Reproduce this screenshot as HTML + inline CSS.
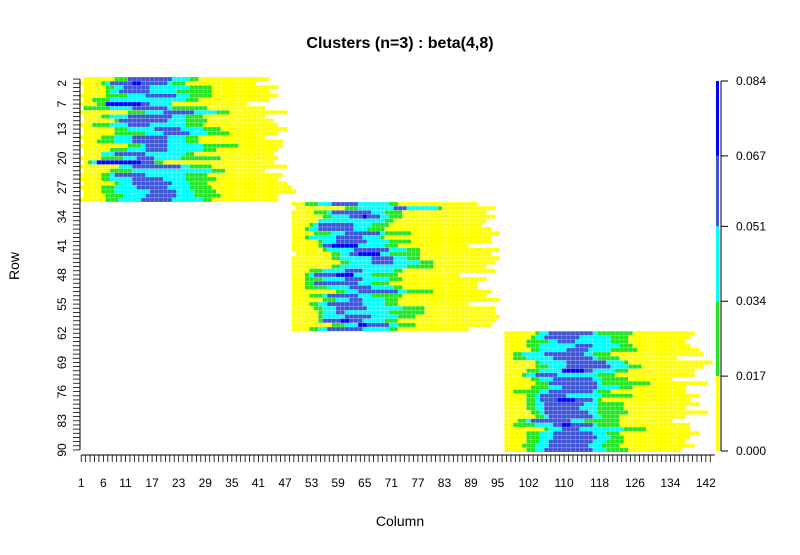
<!DOCTYPE html>
<html><head><meta charset="utf-8"><style>
body{margin:0;background:#fff;font-family:"Liberation Sans",Arial,sans-serif}
svg text{font-family:"Liberation Sans",Arial,sans-serif}
</style></head><body>
<svg id="chart" width="800" height="550" xmlns="http://www.w3.org/2000/svg">
<text x="400" y="48" text-anchor="middle" font-size="16" font-weight="bold">Clusters (n=3) : beta(4,8)</text>
<text x="400" y="526" text-anchor="middle" font-size="14">Column</text>
<text x="19" y="266" text-anchor="middle" font-size="14" transform="rotate(-90 19 266)">Row</text>
<g id="cells"></g><g id="axes"></g><g id="legend"></g>
</svg>
<script>
const rowTickLabels=[2,7,13,20,27,34,41,48,55,62,69,76,83,90];
const colTickLabels=[1,6,11,17,23,29,35,41,47,53,59,65,71,77,83,89,95,102,110,118,126,134,142];
const legendTicks=["0.000","0.017","0.034","0.051","0.067","0.084"];
const legendValues=[0,0.017,0.034,0.051,0.067,0.084];
const nRows=90, nCols=144;
const rowStart=[2,1,2,2,1,2,1,2,1,2,2,1,2,2,1,2,1,2,2,1,2,1,2,1,1,2,1,2,2,1,
49,50,49,49,49,49,49,49,49,49,49,49,50,49,49,49,49,49,49,49,49,49,49,49,49,49,49,49,49,49,49,
97,97,97,97,97,97,97,97,97,97,97,97,97,97,97,97,97,97,97,97,97,97,97,97,97,97,97,97,97];
const greenStart=[9,6,7,7,7,4,5,2,12,6,9,4,9,9,6,5,12,8,6,6,3,10,8,6,6,9,6,6,7,7,
52,61,54,56,55,53,52,54,52,55,55,56,58,58,60,58,53,52,52,52,52,59,53,56,53,54,55,55,55,58,53,
104,103,102,102,103,99,99,104,104,102,101,103,104,103,99,102,102,102,102,103,104,100,99,106,102,102,102,101,102];
const cyanStart=[12,7,9,8,12,8,7,8,16,8,10,8,12,16,9,9,15,12,6,11,4,10,13,8,8,10,9,9,11,10,
55,64,57,58,55,54,53,58,53,56,56,57,60,60,62,60,56,53,56,54,57,61,56,59,55,56,56,56,56,61,55,
105,104,107,105,105,101,102,105,107,105,102,105,107,107,105,104,104,104,104,105,106,102,104,107,105,105,105,104,104];
const blueStart=[12,8,11,10,16,14,7,13,20,12,10,12,18,20,13,13,16,16,9,14,5,13,30,9,13,13,14,17,16,15,
58,72,58,62,63,55,55,61,59,59,56,63,62,67,67,70,61,54,61,54,62,64,57,62,57,59,59,61,56,64,57,
107,106,109,113,111,106,108,111,111,110,104,108,107,110,107,105,105,106,106,106,107,103,108,110,108,108,107,107,106];
const blueEnd=[21,20,16,16,22,13,16,20,26,21,20,16,23,25,20,20,20,20,15,17,17,23,29,15,19,21,20,22,22,21,
63,74,66,68,62,62,62,68,64,65,63,70,67,71,71,69,64,62,64,63,66,72,63,64,64,65,60,66,64,70,64,
116,113,112,116,115,114,116,119,120,116,108,116,117,117,116,110,116,114,113,115,116,111,116,113,116,117,116,115,116];
const cyanEnd=[25,21,25,22,25,24,21,21,31,24,24,24,28,29,24,24,28,28,24,23,17,25,30,24,24,25,25,26,26,28,
70,81,69,70,69,66,65,69,68,70,69,74,70,74,77,74,71,66,70,66,71,74,66,69,69,73,70,72,69,72,70,
117,120,120,122,120,116,117,123,124,121,117,118,118,122,117,118,117,117,117,117,118,114,117,123,119,120,119,118,119];
const greenEnd=[27,24,30,30,30,27,21,29,34,28,29,28,32,34,27,27,36,31,26,32,19,30,33,29,31,29,30,31,32,30,
72,82,73,73,71,70,69,75,69,75,72,77,77,77,80,80,73,72,73,70,73,80,73,72,72,78,78,76,72,76,72,
125,124,124,125,126,120,122,124,127,124,121,124,129,125,120,125,118,123,123,124,122,122,122,128,122,123,123,122,124];
const rowEnd=[43,40,45,43,45,43,38,42,47,42,44,45,47,45,42,46,46,45,44,45,44,47,42,46,45,47,48,49,45,45,
90,94,92,94,92,91,93,95,93,93,88,95,93,95,94,92,94,86,92,90,90,93,92,95,88,94,94,95,94,93,88,
139,138,137,138,140,141,135,143,141,139,139,134,142,137,137,140,138,140,137,142,137,134,138,138,140,138,137,139,136];
const peakRows=[2,7,21,34,41,43,48,59,60,71,78,84];
const peakStart=[13,7,5,65,58,64,59,60,64,110,109,110];
const peakEnd=[14,14,14,65,63,68,62,61,65,114,112,111];
const cols={y:"#ffff00",g:"#22e622",c:"#00ffff",b:"#3f55d8",d:"#0000ff"};
const X0=79, CW=4.43, Y0=77, RH=4.167;
const xs=c=>X0+(c-1)*CW, ys=r=>Y0+(r-1)*RH;
const NS="http://www.w3.org/2000/svg";
function mk(tag,attrs,parent){const e=document.createElementNS(NS,tag);for(const k in attrs)e.setAttribute(k,attrs[k]);parent.appendChild(e);return e;}
const cells=document.getElementById('cells');
function seg(r,a,b,col,name){ if(b<a)return;
 const e=mk('rect',{x:xs(a),y:ys(r),width:(b-a+1)*CW,height:RH,fill:col},cells);
 
 }
for(let i=0;i<nRows;i++){const r=i+1;
 seg(r,rowStart[i],greenStart[i]-1,cols.y,'cell-run-yellow');
 seg(r,greenStart[i],cyanStart[i]-1,cols.g,'cell-run-green');
 seg(r,cyanStart[i],Math.min(blueStart[i]-1,cyanEnd[i]),cols.c,'cell-run-cyan');
 seg(r,blueStart[i],blueEnd[i],cols.b,'cell-run-blue');
 seg(r,Math.max(blueEnd[i]+1,blueStart[i]),cyanEnd[i],cols.c,'cell-run-cyan');
 seg(r,cyanEnd[i]+1,greenEnd[i],cols.g,'cell-run-green');
 seg(r,greenEnd[i]+1,rowEnd[i],cols.y,'cell-run-yellow');}
for(let k=0;k<peakRows.length;k++)seg(peakRows[k],peakStart[k],peakEnd[k],cols.d,'cell-run-peak');
for(let c=1;c<=nCols;c++){const l=mk('line',{x1:xs(c),x2:xs(c),y1:Y0,y2:ys(nRows+1),stroke:'#fff','stroke-width':0.35,'stroke-opacity':0.6},cells);}
for(let r=1;r<=nRows;r++){const l=mk('line',{x1:X0,x2:xs(nCols+1),y1:ys(r),y2:ys(r),stroke:'#fff','stroke-width':0.35,'stroke-opacity':0.6},cells);}
const axes=document.getElementById('axes');
const yl=mk('line',{x1:80,x2:80,y1:ys(1)+RH/2,y2:ys(nRows)+RH/2,stroke:'#000'},axes);
for(let r=1;r<=nRows;r++){const y=ys(r)+RH/2;const t=mk('line',{x1:73,x2:80,y1:y,y2:y,stroke:'#000','stroke-width':0.8},axes);}
rowTickLabels.forEach(v=>{const y=ys(v)+RH/2;const t=mk('text',{x:0,y:0,'font-size':12,'text-anchor':'middle',transform:`translate(66 ${y}) rotate(-90)`},axes);t.textContent=v;});
const xAxisY=455;
const xl=mk('line',{x1:xs(1)+CW/2,x2:xs(nCols)+CW/2,y1:xAxisY,y2:xAxisY,stroke:'#000'},axes);
for(let c=1;c<=nCols-1;c++){const x=xs(c)+CW/2;const t=mk('line',{x1:x,x2:x,y1:xAxisY,y2:xAxisY+7,stroke:'#000','stroke-width':0.8},axes);}
colTickLabels.forEach(v=>{const t=mk('text',{x:xs(v)+CW/2,y:487,'font-size':12,'text-anchor':'middle'},axes);t.textContent=v;});
const lg=document.getElementById('legend');
const LB=451, LT=81, vmax=0.084, ly=v=>LB-(v/vmax)*(LB-LT);
const legendColors=[cols.y,cols.g,cols.c,cols.b,cols.d];
for(let i=0;i<5;i++){const e=mk('rect',{x:716,y:ly(legendValues[i+1]),width:3,height:ly(legendValues[i])-ly(legendValues[i+1]),fill:legendColors[i]},lg);}
const la=mk('line',{x1:721,x2:721,y1:LT,y2:LB,stroke:'#000'},lg);
legendValues.forEach((v,i)=>{const y=ly(v);const t=mk('line',{x1:721,x2:728,y1:y,y2:y,stroke:'#000'},lg);
 const tx=mk('text',{x:736,y:y+4,'font-size':12},lg);tx.textContent=legendTicks[i];});
</script>
</body></html>
